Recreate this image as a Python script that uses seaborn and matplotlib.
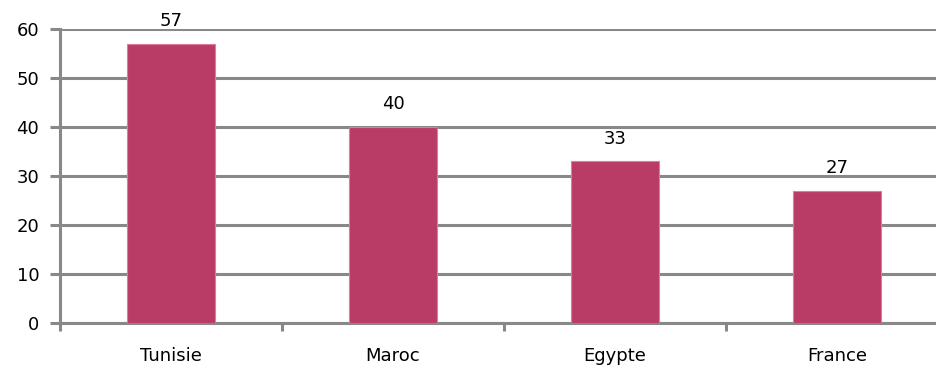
import matplotlib
matplotlib.use("Agg")
import matplotlib.pyplot as plt
import seaborn as sns
import pandas as pd

pays = ["Tunisie", "Maroc", "Egypte", "France"]
valeurs = [57, 40, 33, 27]
etiquettes = ["57", "40", "33", "27"]
graduations = [0, 10, 20, 30, 40, 50, 60]

sns.set_theme(style="white")
plt.rcParams["font.family"] = ["DejaVu Sans"]

df = pd.DataFrame({"pays": pays, "valeur": valeurs})

fig = plt.figure(figsize=(9.37, 3.65), dpi=100)
ax = fig.add_axes([60 / 937, 1 - 323 / 365, 888 / 937, (323 - 29) / 365])

sns.barplot(data=df, x="pays", y="valeur", color="#B93C66", width=0.4,
            edgecolor="#E07BA0", linewidth=0.8, saturation=1, ax=ax, zorder=3)

ax.set_xlim(-0.5, 3.5)
ax.set_ylim(0, 60)
ax.set_yticks(graduations)
ax.yaxis.grid(True, color="#888888", linewidth=2.2, zorder=0)
ax.set_axisbelow(True)

for i, (v, t) in enumerate(zip(valeurs, etiquettes)):
    ax.text(i, v + 2.8, t, ha="center", va="bottom", fontsize=13, color="black", zorder=5)

for side in ["top", "right"]:
    ax.spines[side].set_visible(False)
for side in ["left", "bottom"]:
    ax.spines[side].set_color("#888888")
    ax.spines[side].set_linewidth(2.2)

ax.set_xticks([-0.5, 0.5, 1.5, 2.5, 3.5], minor=False)
ax.set_xticklabels([])
ax.set_xticks([0, 1, 2, 3], minor=True)
ax.set_xticklabels(pays, minor=True)
ax.tick_params(axis="x", which="major", bottom=True, length=6, width=2.2, color="#888888")
ax.tick_params(axis="x", which="minor", bottom=False, length=0, pad=17, labelsize=13,
               labelcolor="black")
ax.tick_params(axis="y", left=True, length=7, width=2.2, color="#888888", labelsize=13, pad=8,
               labelcolor="black")
ax.set_xlabel("")
ax.set_ylabel("")

fig.savefig("out.png", dpi=100)
